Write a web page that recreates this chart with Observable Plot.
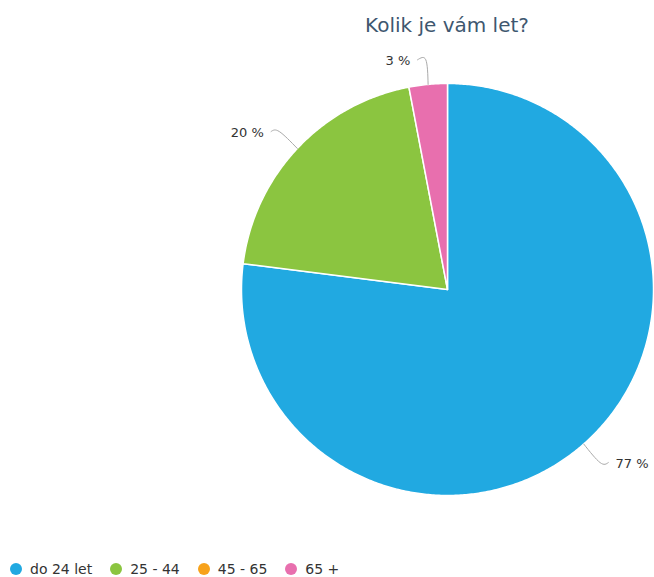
<!DOCTYPE html>
<html>
<head>
<meta charset="utf-8">
<script src="https://cdn.jsdelivr.net/npm/d3@7"></script>
<script src="https://cdn.jsdelivr.net/npm/@observablehq/plot@0.6"></script>
<style>
  body { margin: 0; background: #fff; font-family: "DejaVu Sans", sans-serif; }
  #wrap { position: relative; width: 654px; height: 577px; }
  #title { position: absolute; top: 13px; left: 240px; width: 414px; text-align: center;
           font-size: 20px; color: #3e576f; }
  #chart { position: absolute; top: 0; left: 0; }
  #legend { position: absolute; top: 561px; left: 10px; display: flex; font-size: 14px; color: #333;
            font-family: "DejaVu Sans", sans-serif; }
  .item { display: flex; align-items: center; margin-right: 18px; }
  .sw { width: 12px; height: 12px; border-radius: 50%; margin-right: 8px; }
</style>
</head>
<body>
<div id="wrap">
  <div id="chart"></div>
  <div id="title">Kolik je vám let?</div>
  <div id="legend"></div>
</div>
<script>
const titleText = "Kolik je vám let?";
const categories = ["do 24 let", "25 - 44", "45 - 65", "65 +"];
const values = [77, 20, 0, 3];
const colors = ["#21a9e1", "#8bc540", "#f7a21b", "#e86fae"];

const total = d3.sum(values);
let cum = 0;
const slices = categories.map((c, i) => {
  const a0 = cum / total * 2 * Math.PI;
  cum += values[i];
  const a1 = cum / total * 2 * Math.PI;
  return {cat: c, value: values[i], color: colors[i], a0, a1, mid: (a0 + a1) / 2};
}).filter(d => d.value > 0);

const marks = [];
for (const s of slices) {
  const pts = [{x: 0, y: 0}];
  const n = Math.max(2, Math.ceil((s.a1 - s.a0) / (Math.PI / 360)));
  for (let k = 0; k <= n; k++) {
    const a = s.a0 + (s.a1 - s.a0) * k / n;
    pts.push({x: Math.sin(a), y: Math.cos(a)});
  }
  marks.push(Plot.line(pts, {x: "x", y: "y", fill: s.color, stroke: "#fff", strokeWidth: 1.5, curve: "linear-closed"}));
}
for (const s of slices) {
  const sx = Math.sin(s.mid), sy = Math.cos(s.mid);
  const right = sx >= 0;
  const e = {x: sx * 1.12, y: sy * 1.12};
  const leader = [{x: sx, y: sy}, e, {x: e.x + (right ? 0.04 : -0.04), y: e.y}];
  marks.push(Plot.line(leader, {x: "x", y: "y", stroke: "#aaa", strokeWidth: 1, curve: "natural"}));
  marks.push(Plot.text([s], {
    x: () => e.x + (right ? 0.075 : -0.075), y: () => e.y,
    text: d => d.value + " %", textAnchor: right ? "start" : "end",
    fontSize: 13, fill: "#333", dy: 1
  }));
}

const chart = Plot.plot({
  width: 654, height: 545,
  style: {fontFamily: "DejaVu Sans, sans-serif", background: "transparent"},
  x: {domain: [-1, 1], range: [241, 653], axis: null},
  y: {domain: [-1, 1], range: [495, 83], axis: null},
  marks
});
document.getElementById("chart").appendChild(chart);
document.getElementById("title").textContent = titleText;

const legend = document.getElementById("legend");
categories.forEach((c, i) => {
  const it = document.createElement("div");
  it.className = "item";
  const sw = document.createElement("span");
  sw.className = "sw"; sw.style.background = colors[i];
  const t = document.createElement("span");
  t.textContent = c;
  it.appendChild(sw); it.appendChild(t);
  legend.appendChild(it);
});
</script>
</body>
</html>
